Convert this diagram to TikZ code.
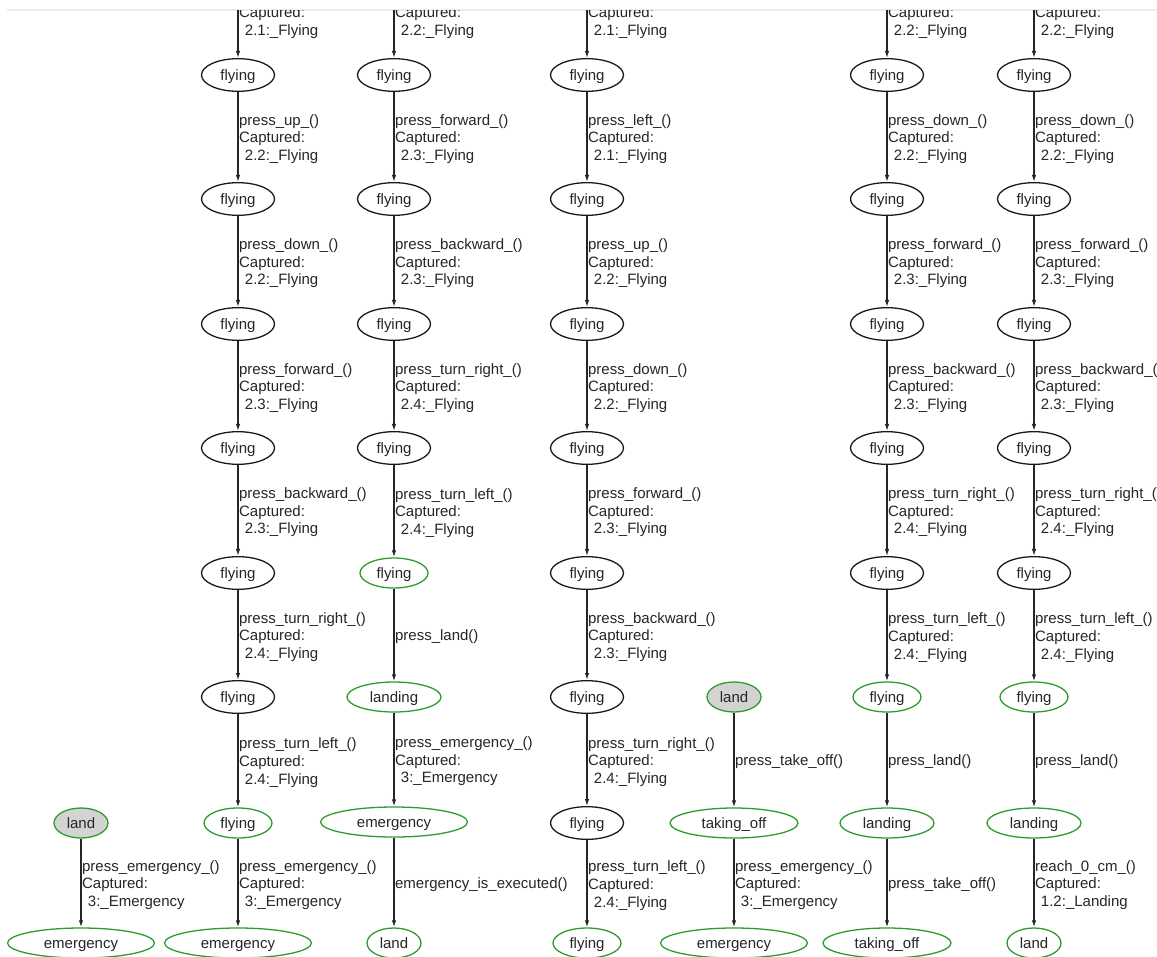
\documentclass[tikz,border=0pt]{standalone}
\usepackage{fontspec}
\setmainfont{Liberation Sans}
\usepackage{xcolor}
\usetikzlibrary{shapes.geometric,arrows.meta}
\definecolor{stgreen}{RGB}{45,155,45}
\definecolor{stgray}{RGB}{211,211,211}
\newcommand{\capt}[2]{#1\\Captured:\\\hspace*{5pt}#2}
\tikzset{
  st/.style={ellipse,draw=black!90,line width=1.1pt,inner sep=0pt,minimum height=0.98cm,
    text height=10.4pt,text depth=1pt,text=black!85,font=\fontsize{12.8}{15}\selectfont},
  fin/.style={st,draw=stgreen,minimum height=0.9cm},
  ini/.style={fin,fill=stgray},
  wfly/.style={minimum width=2.19cm},
  wflyg/.style={minimum width=2.04cm},
  wland/.style={minimum width=1.62cm},
  wlanding/.style={minimum width=2.82cm},
  wemer/.style={minimum width=4.41cm},
  wtake/.style={minimum width=3.84cm},
  arr/.style={-{Latex[length=6pt,width=3.8pt]},line width=1.1pt,draw=black!85},
  lbl/.style={anchor=west,align=left,inner sep=0pt,xshift=0.4pt,yshift=-1.6pt,text=black!85,
    font=\fontsize{12.8}{15}\selectfont}
}

\begin{document}
\begin{tikzpicture}[x=0.03cm,y=-0.03cm]
\useasboundingbox[fill=white] (0,0) rectangle (1157,956);
\draw[black!8,line width=1pt] (7,10) -- (1157,10);
\begin{scope}
\clip (0,10.6) rectangle (1157,956);
% col A
\node[ini,wland] (a7) at (81,823) {land};
\node[fin,wemer] (a8) at (81,943) {emergency};
\draw[arr] (a7) -- node[lbl] {\capt{press\_emergency\_()}{3:\_Emergency}} (a8);
% col B
\coordinate (b0) at (238,-17);
\node[st,wfly] (b1) at (238,75) {flying};
\node[st,wfly] (b2) at (238,199) {flying};
\node[st,wfly] (b3) at (238,324) {flying};
\node[st,wfly] (b4) at (238,448) {flying};
\node[st,wfly] (b5) at (238,573) {flying};
\node[st,wfly] (b6) at (238,697) {flying};
\node[fin,wflyg] (b7) at (238,823) {flying};
\node[fin,wemer] (b8) at (238,943) {emergency};
\draw[arr] (b0) -- node[lbl] {Captured:\\\hspace*{5pt}2.1:\_Flying} (b1);
\draw[arr] (b1) -- node[lbl] {\capt{press\_up\_()}{2.2:\_Flying}} (b2);
\draw[arr] (b2) -- node[lbl] {\capt{press\_down\_()}{2.2:\_Flying}} (b3);
\draw[arr] (b3) -- node[lbl] {\capt{press\_forward\_()}{2.3:\_Flying}} (b4);
\draw[arr] (b4) -- node[lbl] {\capt{press\_backward\_()}{2.3:\_Flying}} (b5);
\draw[arr] (b5) -- node[lbl] {\capt{press\_turn\_right\_()}{2.4:\_Flying}} (b6);
\draw[arr] (b6) -- node[lbl] {\capt{press\_turn\_left\_()}{2.4:\_Flying}} (b7);
\draw[arr] (b7) -- node[lbl] {\capt{press\_emergency\_()}{3:\_Emergency}} (b8);
% col C
\coordinate (c0) at (394,-17);
\node[st,wfly] (c1) at (394,75) {flying};
\node[st,wfly] (c2) at (394,199) {flying};
\node[st,wfly] (c3) at (394,324) {flying};
\node[st,wfly] (c4) at (394,448) {flying};
\node[fin,wflyg] (c5) at (394,573) {flying};
\node[fin,wlanding] (c6) at (394,697) {landing};
\node[fin,wemer] (c7) at (394,822) {emergency};
\node[fin,wland] (c8) at (394,943) {land};
\draw[arr] (c0) -- node[lbl] {Captured:\\\hspace*{5pt}2.2:\_Flying} (c1);
\draw[arr] (c1) -- node[lbl] {\capt{press\_forward\_()}{2.3:\_Flying}} (c2);
\draw[arr] (c2) -- node[lbl] {\capt{press\_backward\_()}{2.3:\_Flying}} (c3);
\draw[arr] (c3) -- node[lbl] {\capt{press\_turn\_right\_()}{2.4:\_Flying}} (c4);
\draw[arr] (c4) -- node[lbl] {\capt{press\_turn\_left\_()}{2.4:\_Flying}} (c5);
\draw[arr] (c5) -- node[lbl] {press\_land()} (c6);
\draw[arr] (c6) -- node[lbl] {\capt{press\_emergency\_()}{3:\_Emergency}} (c7);
\draw[arr] (c7) -- node[lbl] {emergency\_is\_executed()} (c8);
% col D
\coordinate (d0) at (587,-17);
\node[st,wfly] (d1) at (587,75) {flying};
\node[st,wfly] (d2) at (587,199) {flying};
\node[st,wfly] (d3) at (587,324) {flying};
\node[st,wfly] (d4) at (587,448) {flying};
\node[st,wfly] (d5) at (587,573) {flying};
\node[st,wfly] (d6) at (587,697) {flying};
\node[st,wfly] (d7) at (587,823) {flying};
\node[fin,wflyg] (d8) at (587,943) {flying};
\draw[arr] (d0) -- node[lbl] {Captured:\\\hspace*{5pt}2.1:\_Flying} (d1);
\draw[arr] (d1) -- node[lbl] {\capt{press\_left\_()}{2.1:\_Flying}} (d2);
\draw[arr] (d2) -- node[lbl] {\capt{press\_up\_()}{2.2:\_Flying}} (d3);
\draw[arr] (d3) -- node[lbl] {\capt{press\_down\_()}{2.2:\_Flying}} (d4);
\draw[arr] (d4) -- node[lbl] {\capt{press\_forward\_()}{2.3:\_Flying}} (d5);
\draw[arr] (d5) -- node[lbl] {\capt{press\_backward\_()}{2.3:\_Flying}} (d6);
\draw[arr] (d6) -- node[lbl] {\capt{press\_turn\_right\_()}{2.4:\_Flying}} (d7);
\draw[arr] (d7) -- node[lbl] {\capt{press\_turn\_left\_()}{2.4:\_Flying}} (d8);
% col E
\node[ini,wland] (e6) at (734,697) {land};
\node[fin,wtake] (e7) at (734,823) {taking\_off};
\node[fin,wemer] (e8) at (734,943) {emergency};
\draw[arr] (e6) -- node[lbl] {press\_take\_off()} (e7);
\draw[arr] (e7) -- node[lbl] {\capt{press\_emergency\_()}{3:\_Emergency}} (e8);
% col F
\coordinate (f0) at (887,-17);
\node[st,wfly] (f1) at (887,75) {flying};
\node[st,wfly] (f2) at (887,199) {flying};
\node[st,wfly] (f3) at (887,324) {flying};
\node[st,wfly] (f4) at (887,448) {flying};
\node[st,wfly] (f5) at (887,573) {flying};
\node[fin,wflyg] (f6) at (887,697) {flying};
\node[fin,wlanding] (f7) at (887,823) {landing};
\node[fin,wtake] (f8) at (887,943) {taking\_off};
\draw[arr] (f0) -- node[lbl] {Captured:\\\hspace*{5pt}2.2:\_Flying} (f1);
\draw[arr] (f1) -- node[lbl] {\capt{press\_down\_()}{2.2:\_Flying}} (f2);
\draw[arr] (f2) -- node[lbl] {\capt{press\_forward\_()}{2.3:\_Flying}} (f3);
\draw[arr] (f3) -- node[lbl] {\capt{press\_backward\_()}{2.3:\_Flying}} (f4);
\draw[arr] (f4) -- node[lbl] {\capt{press\_turn\_right\_()}{2.4:\_Flying}} (f5);
\draw[arr] (f5) -- node[lbl] {\capt{press\_turn\_left\_()}{2.4:\_Flying}} (f6);
\draw[arr] (f6) -- node[lbl] {press\_land()} (f7);
\draw[arr] (f7) -- node[lbl] {press\_take\_off()} (f8);
% col G
\coordinate (g0) at (1034,-17);
\node[st,wfly] (g1) at (1034,75) {flying};
\node[st,wfly] (g2) at (1034,199) {flying};
\node[st,wfly] (g3) at (1034,324) {flying};
\node[st,wfly] (g4) at (1034,448) {flying};
\node[st,wfly] (g5) at (1034,573) {flying};
\node[fin,wflyg] (g6) at (1034,697) {flying};
\node[fin,wlanding] (g7) at (1034,823) {landing};
\node[fin,wland] (g8) at (1034,943) {land};
\draw[arr] (g0) -- node[lbl] {Captured:\\\hspace*{5pt}2.2:\_Flying} (g1);
\draw[arr] (g1) -- node[lbl] {\capt{press\_down\_()}{2.2:\_Flying}} (g2);
\draw[arr] (g2) -- node[lbl] {\capt{press\_forward\_()}{2.3:\_Flying}} (g3);
\draw[arr] (g3) -- node[lbl] {\capt{press\_backward\_()}{2.3:\_Flying}} (g4);
\draw[arr] (g4) -- node[lbl] {\capt{press\_turn\_right\_()}{2.4:\_Flying}} (g5);
\draw[arr] (g5) -- node[lbl] {\capt{press\_turn\_left\_()}{2.4:\_Flying}} (g6);
\draw[arr] (g6) -- node[lbl] {press\_land()} (g7);
\draw[arr] (g7) -- node[lbl] {\capt{reach\_0\_cm\_()}{1.2:\_Landing}} (g8);
\end{scope}
\end{tikzpicture}
\end{document}
